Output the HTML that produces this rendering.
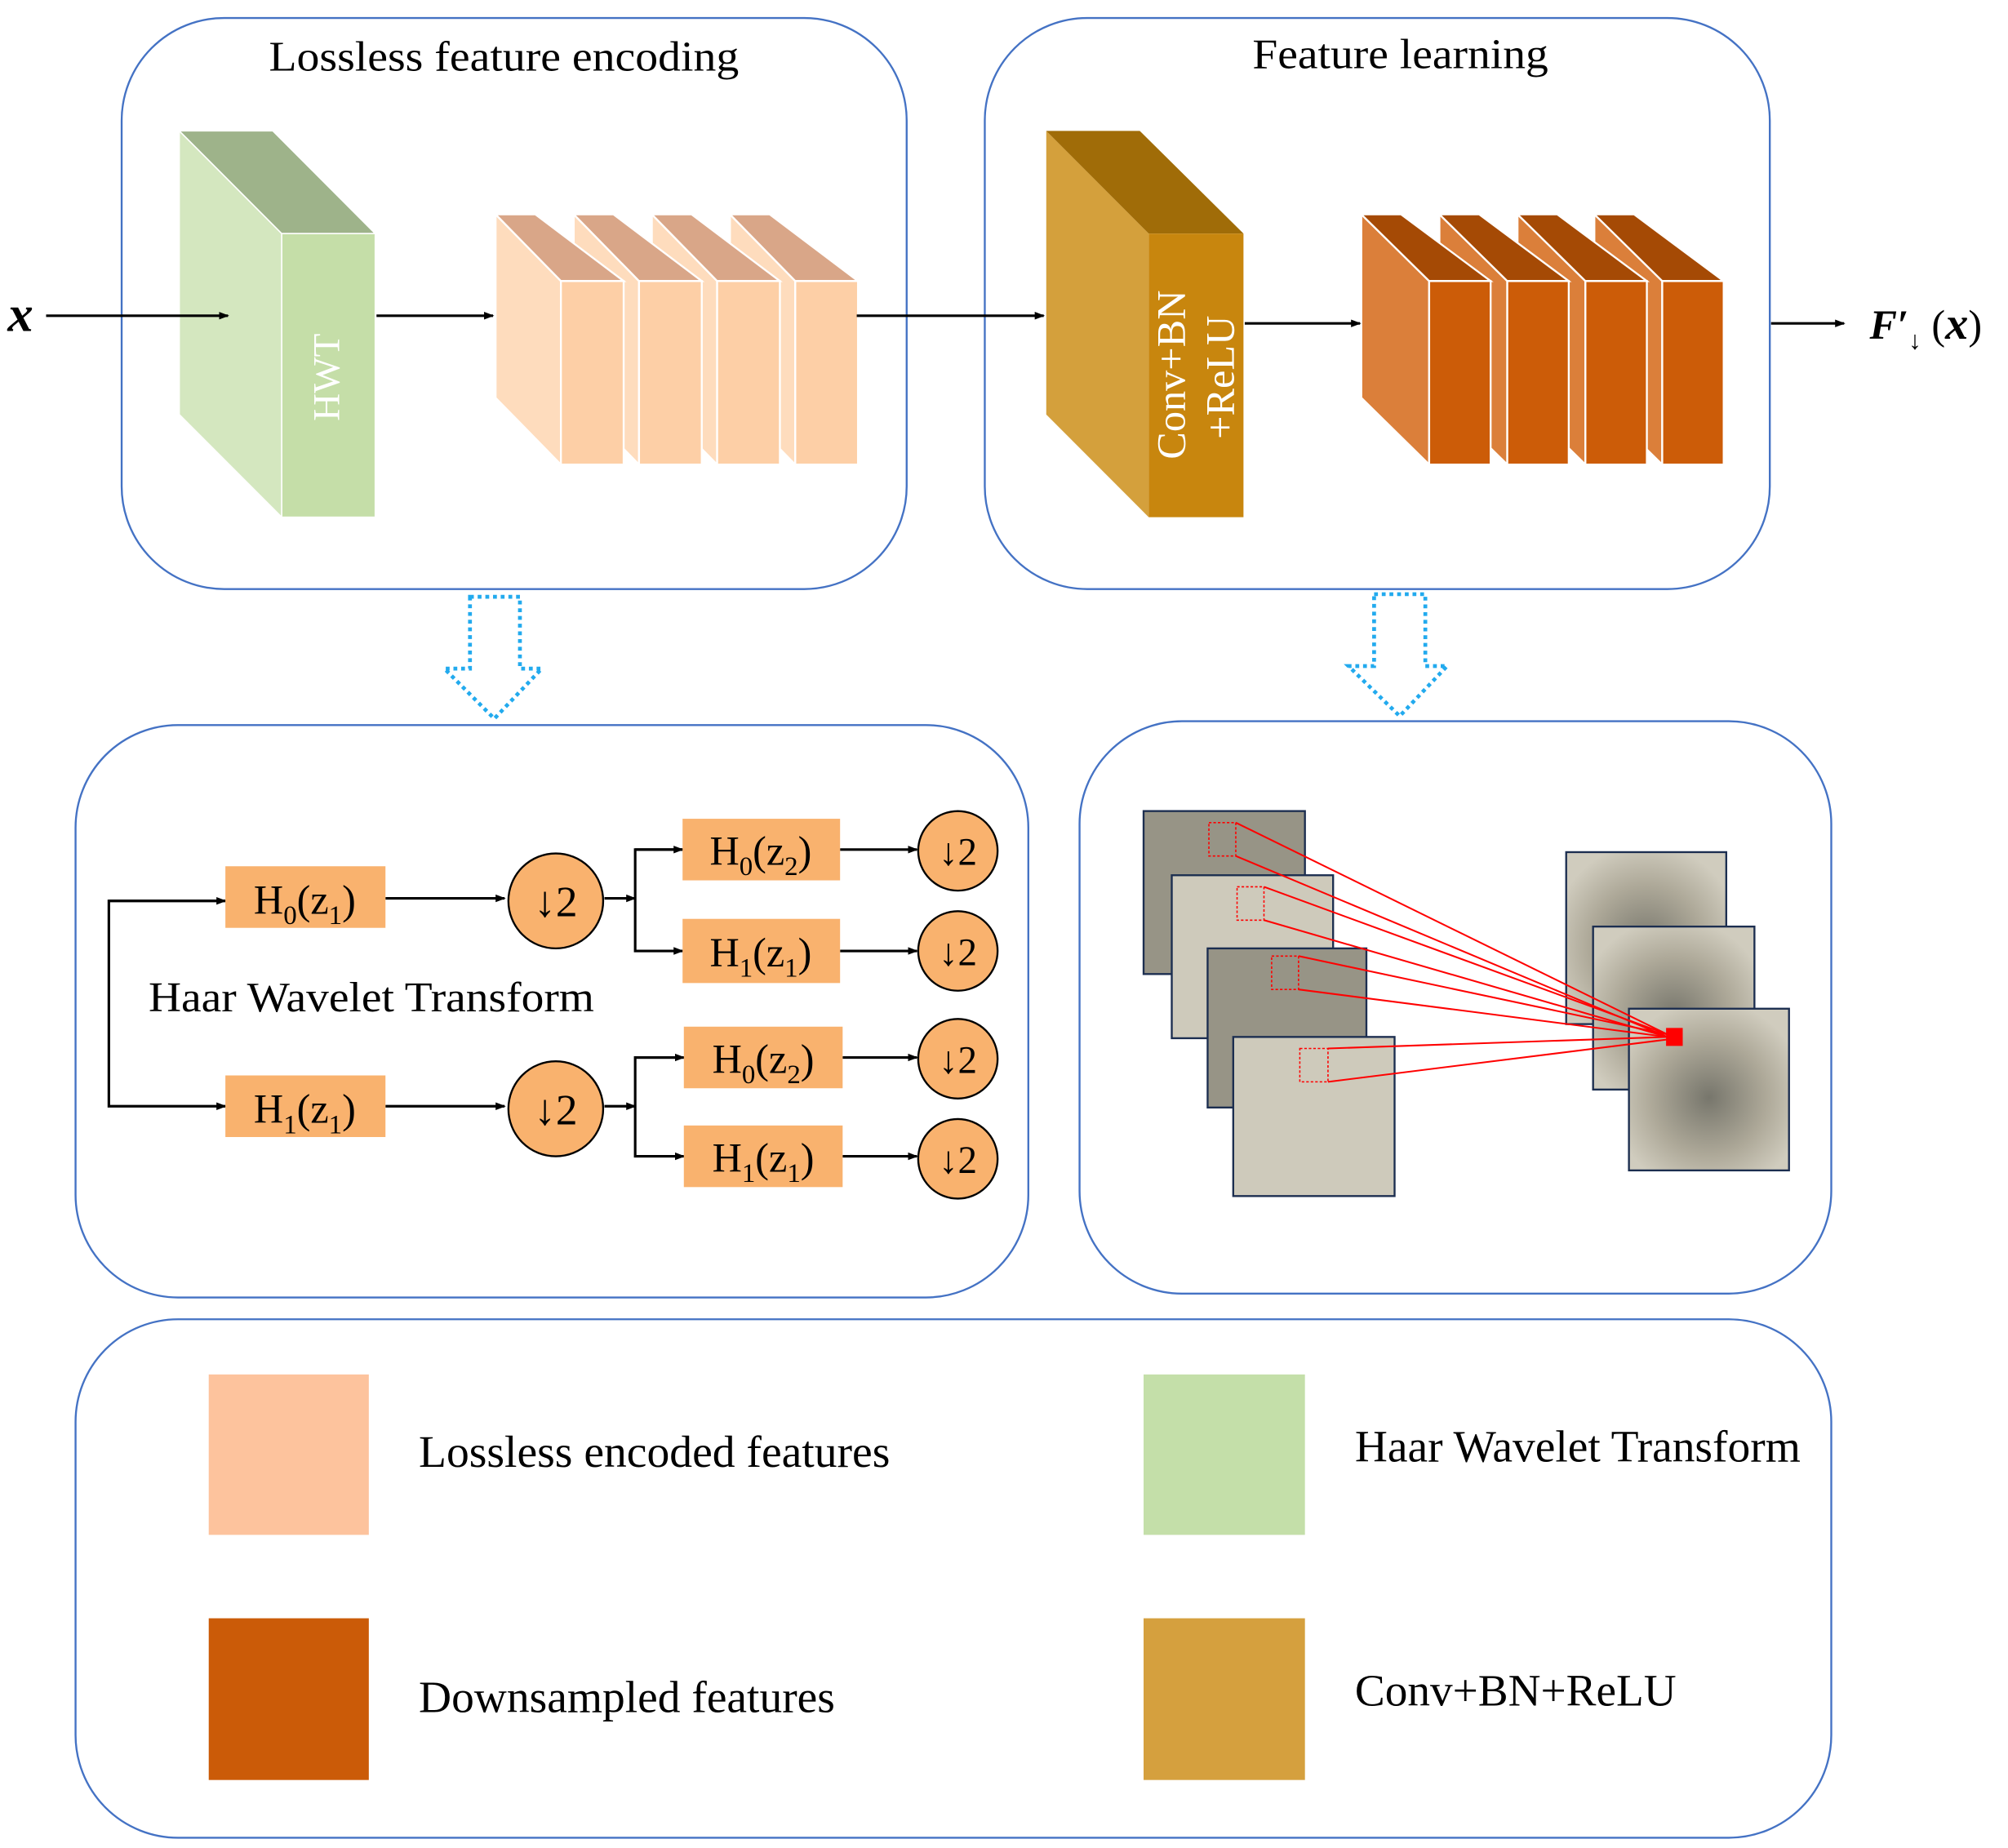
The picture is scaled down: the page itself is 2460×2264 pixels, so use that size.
<!DOCTYPE html>
<html><head><meta charset="utf-8"><style>html,body{margin:0;padding:0;background:#fff}svg{display:block}text{font-family:"Liberation Serif",serif}</style></head><body>
<svg width="2460" height="2264" viewBox="0 0 1568 1440" preserveAspectRatio="none" xmlns="http://www.w3.org/2000/svg">
<defs>
<marker id="ah" markerWidth="8" markerHeight="8" refX="7" refY="4" orient="auto" markerUnits="userSpaceOnUse"><path d="M0,1 L8,4 L0,7 z" fill="#000"/></marker>
<radialGradient id="rg" cx="0.5" cy="0.55" r="0.6"><stop offset="0" stop-color="#77766c"/><stop offset="0.6" stop-color="#aea999"/><stop offset="1" stop-color="#d0ccbe"/></radialGradient>
</defs>
<g fill="none" stroke="#4472c4" stroke-width="1.5">
<rect x="95" y="14" width="613" height="445" rx="80"/>
<rect x="769" y="14" width="613" height="445" rx="80"/>
<rect x="59" y="565" width="744" height="446" rx="80"/>
<rect x="843" y="562" width="587" height="446" rx="80"/>
<rect x="59" y="1028" width="1371" height="404" rx="80"/>
</g>
<text x="210" y="55" font-size="33" textLength="367" lengthAdjust="spacingAndGlyphs">Lossless feature encoding</text>
<text x="978" y="53" font-size="33" textLength="231" lengthAdjust="spacingAndGlyphs">Feature learning</text>
<!-- green -->
<polygon points="140,102 220,182 220,403 140,323" fill="#d4e7bf" stroke="#fff"/>
<polygon points="140,102 213,102 293,182 220,182" fill="#9eb38a" stroke="#fff"/>
<rect x="220" y="182" width="73" height="221" fill="#c5dea8" stroke="#fff"/>
<text transform="translate(258,294) rotate(-90)" font-size="30" fill="#fff" text-anchor="middle" dominant-baseline="middle">HWT</text>
<!-- peach (drawn back to front) -->
<g stroke="#fff" stroke-width="1.5">
<g transform="translate(183,0)"><polygon points="387,167 438,219 438,362 387,310" fill="#fedcbd"/><polygon points="387,167 418,167 487,219 438,219" fill="#d9a688"/><rect x="438" y="219" width="49" height="143" fill="#fdcfa6"/></g>
<g transform="translate(122,0)"><polygon points="387,167 438,219 438,362 387,310" fill="#fedcbd"/><polygon points="387,167 418,167 487,219 438,219" fill="#d9a688"/><rect x="438" y="219" width="49" height="143" fill="#fdcfa6"/></g>
<g transform="translate(61,0)"><polygon points="387,167 438,219 438,362 387,310" fill="#fedcbd"/><polygon points="387,167 418,167 487,219 438,219" fill="#d9a688"/><rect x="438" y="219" width="49" height="143" fill="#fdcfa6"/></g>
<g><polygon points="387,167 438,219 438,362 387,310" fill="#fedcbd"/><polygon points="387,167 418,167 487,219 438,219" fill="#d9a688"/><rect x="438" y="219" width="49" height="143" fill="#fdcfa6"/></g>
</g>
<!-- gold -->
<polygon points="817,102 897,182 897,403 817,323" fill="#d4a03c"/>
<polygon points="817,102 890,102 971,182 897,182" fill="#a06c08"/>
<rect x="897" y="182" width="74" height="221" fill="#c8860e"/>
<text transform="translate(918,292) rotate(-90)" font-size="32" fill="#fff" text-anchor="middle" dominant-baseline="middle">Conv+BN</text>
<text transform="translate(956,294) rotate(-90)" font-size="32" fill="#fff" text-anchor="middle" dominant-baseline="middle">+ReLU</text>
<!-- orange (back to front) -->
<g stroke="#fff" stroke-width="1.5">
<g transform="translate(182,0)"><polygon points="1063,167 1116,219 1116,362 1063,310" fill="#db7f3a"/><polygon points="1063,167 1094,167 1164,219 1116,219" fill="#a54a05"/><rect x="1116" y="219" width="48" height="143" fill="#cc5c08"/></g>
<g transform="translate(122,0)"><polygon points="1063,167 1116,219 1116,362 1063,310" fill="#db7f3a"/><polygon points="1063,167 1094,167 1164,219 1116,219" fill="#a54a05"/><rect x="1116" y="219" width="48" height="143" fill="#cc5c08"/></g>
<g transform="translate(61,0)"><polygon points="1063,167 1116,219 1116,362 1063,310" fill="#db7f3a"/><polygon points="1063,167 1094,167 1164,219 1116,219" fill="#a54a05"/><rect x="1116" y="219" width="48" height="143" fill="#cc5c08"/></g>
<g><polygon points="1063,167 1116,219 1116,362 1063,310" fill="#db7f3a"/><polygon points="1063,167 1094,167 1164,219 1116,219" fill="#a54a05"/><rect x="1116" y="219" width="48" height="143" fill="#cc5c08"/></g>
</g>
<!-- main arrows -->
<g stroke="#000" stroke-width="2" marker-end="url(#ah)">
<line x1="36" y1="246" x2="178" y2="246"/>
<line x1="294" y1="246" x2="385" y2="246"/>
<line x1="669" y1="246" x2="815" y2="246"/>
<line x1="972" y1="252" x2="1062" y2="252"/>
<line x1="1383" y1="252" x2="1440" y2="252"/>
</g>
<text x="6" y="258" font-size="40" font-style="italic" font-weight="bold">x</text>
<text x="1460" y="264" font-size="32" font-style="italic" font-weight="bold">F′<tspan font-size="20" dy="8">↓</tspan><tspan dy="-8" font-style="normal" font-weight="normal"> (</tspan><tspan font-size="36">x</tspan><tspan font-style="normal" font-weight="normal">)</tspan></text>
<!-- dotted arrows -->
<g fill="none" stroke="#22aaee" stroke-width="3" stroke-dasharray="3,3">
<path d="M367,465 H406 V521 H423 L386,560 L347,521 H367 Z"/>
<path d="M1073,463 H1113 V519 H1130 L1093,558 L1053,519 H1073 Z"/>
</g>
<!-- HWT diagram -->
<g stroke="#000" stroke-width="2" fill="none">
<path d="M176,702 H85 V862 H176" marker-end="url(#ah)"/>
<line x1="85" y1="702" x2="176" y2="702" marker-end="url(#ah)"/>
<line x1="301" y1="700" x2="394" y2="700" marker-end="url(#ah)"/>
<line x1="301" y1="862" x2="394" y2="862" marker-end="url(#ah)"/>
<line x1="472" y1="700" x2="496" y2="700" marker-end="url(#ah)"/>
<path d="M533,662 H496 V741 H533" marker-end="url(#ah)"/>
<line x1="496" y1="662" x2="533" y2="662" marker-end="url(#ah)"/>
<line x1="472" y1="862" x2="496" y2="862" marker-end="url(#ah)"/>
<path d="M534,824 H496 V901 H534" marker-end="url(#ah)"/>
<line x1="496" y1="824" x2="534" y2="824" marker-end="url(#ah)"/>
<line x1="656" y1="662" x2="716" y2="662" marker-end="url(#ah)"/>
<line x1="656" y1="741" x2="716" y2="741" marker-end="url(#ah)"/>
<line x1="658" y1="824" x2="716" y2="824" marker-end="url(#ah)"/>
<line x1="658" y1="901" x2="716" y2="901" marker-end="url(#ah)"/>
</g>
<g fill="#f9b26e">
<rect x="176" y="675" width="125" height="48"/>
<rect x="176" y="838" width="125" height="48"/>
<rect x="533" y="638" width="123" height="48"/>
<rect x="533" y="716" width="123" height="50"/>
<rect x="534" y="800" width="124" height="48"/>
<rect x="534" y="877" width="124" height="48"/>
</g>
<g fill="#f9b26e" stroke="#000" stroke-width="1.5">
<circle cx="434" cy="702" r="37"/><circle cx="434" cy="864" r="37"/>
<circle cx="748" cy="663" r="31"/><circle cx="748" cy="741" r="31"/>
<circle cx="748" cy="825" r="31"/><circle cx="748" cy="903" r="31"/>
</g>
<g font-size="32" text-anchor="middle">
<text x="238" y="712">H<tspan font-size="21" dy="8">0</tspan><tspan dy="-8">(z</tspan><tspan font-size="21" dy="8">1</tspan><tspan dy="-8">)</tspan></text>
<text x="238" y="875">H<tspan font-size="21" dy="8">1</tspan><tspan dy="-8">(z</tspan><tspan font-size="21" dy="8">1</tspan><tspan dy="-8">)</tspan></text>
<text x="594" y="674">H<tspan font-size="21" dy="8">0</tspan><tspan dy="-8">(z</tspan><tspan font-size="21" dy="8">2</tspan><tspan dy="-8">)</tspan></text>
<text x="594" y="753">H<tspan font-size="21" dy="8">1</tspan><tspan dy="-8">(z</tspan><tspan font-size="21" dy="8">1</tspan><tspan dy="-8">)</tspan></text>
<text x="596" y="836">H<tspan font-size="21" dy="8">0</tspan><tspan dy="-8">(z</tspan><tspan font-size="21" dy="8">2</tspan><tspan dy="-8">)</tspan></text>
<text x="596" y="913">H<tspan font-size="21" dy="8">1</tspan><tspan dy="-8">(z</tspan><tspan font-size="21" dy="8">1</tspan><tspan dy="-8">)</tspan></text>
<text x="434" y="714" font-size="34">↓2</text>
<text x="434" y="876" font-size="34">↓2</text>
<text x="748" y="674" font-size="30">↓2</text>
<text x="748" y="752" font-size="30">↓2</text>
<text x="748" y="836" font-size="30">↓2</text>
<text x="748" y="914" font-size="30">↓2</text>
</g>
<text x="116" y="788" font-size="33" textLength="348" lengthAdjust="spacingAndGlyphs">Haar Wavelet Transform</text>
<!-- conv illustration -->
<g stroke="#1c2e50" stroke-width="1.5">
<rect x="893" y="632" width="126" height="127" fill="#979486"/>
<rect x="915" y="682" width="126" height="127" fill="#cecabb"/>
<rect x="943" y="739" width="124" height="124" fill="#979486"/>
<rect x="963" y="808" width="126" height="124" fill="#cecabb"/>
<rect x="1223" y="664" width="125" height="134" fill="url(#rg)"/>
<rect x="1244" y="722" width="126" height="127" fill="url(#rg)"/>
<rect x="1272" y="786" width="125" height="126" fill="url(#rg)"/>
</g>
<g fill="none" stroke="#f00" stroke-width="1" stroke-dasharray="2,1.5">
<rect x="944" y="641" width="21" height="26"/>
<rect x="966" y="691" width="21" height="26"/>
<rect x="993" y="745" width="21" height="26"/>
<rect x="1015" y="817" width="22" height="26"/>
</g>
<g stroke="#f00" stroke-width="1.3">
<line x1="965" y1="641" x2="1302" y2="806"/><line x1="965" y1="667" x2="1302" y2="808"/>
<line x1="987" y1="691" x2="1302" y2="806"/><line x1="987" y1="717" x2="1302" y2="808"/>
<line x1="1014" y1="745" x2="1302" y2="806"/><line x1="1014" y1="771" x2="1302" y2="808"/>
<line x1="1037" y1="817" x2="1302" y2="808"/><line x1="1037" y1="843" x2="1302" y2="810"/>
</g>
<rect x="1301" y="801" width="13" height="14" fill="#f00"/>
<!-- legend -->
<rect x="163" y="1071" width="125" height="125" fill="#fdc39d"/>
<rect x="893" y="1071" width="126" height="125" fill="#c4dfa9"/>
<rect x="163" y="1261" width="125" height="126" fill="#cb5b08"/>
<rect x="893" y="1261" width="126" height="126" fill="#d5a03e"/>
<g font-size="35">
<text x="327" y="1143" textLength="368" lengthAdjust="spacingAndGlyphs">Lossless encoded features</text>
<text x="1058" y="1139" textLength="348" lengthAdjust="spacingAndGlyphs">Haar Wavelet Transform</text>
<text x="327" y="1334" textLength="325" lengthAdjust="spacingAndGlyphs">Downsampled features</text>
<text x="1058" y="1329" textLength="251" lengthAdjust="spacingAndGlyphs">Conv+BN+ReLU</text>
</g>
</svg>
</body></html>
